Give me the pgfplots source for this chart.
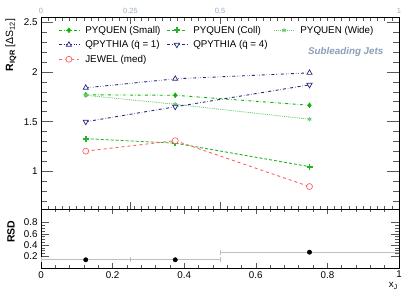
\documentclass[border=0pt]{standalone}
\usepackage{fontspec}
\setmainfont{Liberation Sans}
\usepackage{amsmath}
\usepackage{pgfplots}
\pgfplotsset{compat=1.18}

\definecolor{cSmall}{rgb}{0.05,0.7,0.05}
\definecolor{cColl}{rgb}{0.15,0.7,0.15}
\definecolor{cWide}{rgb}{0.42,0.8,0.42}
\definecolor{cQ}{rgb}{0.15,0.15,0.5}
\definecolor{cJ}{rgb}{1,0.38,0.38}
\definecolor{cLbl}{rgb}{0.6,0.68,0.78}
\definecolor{cSub}{rgb}{0.55,0.62,0.72}

\begin{document}
\fontsize{9.8}{11}\selectfont
\begin{tikzpicture}
\begin{axis}[
  name=top, at={(0,0)}, anchor=south west,
  scale only axis, width=358pt, height=192pt,
  xmin=0, xmax=1, ymin=0.625, ymax=2.55,
  /pgf/number format/assume math mode=true,
  xtick={0,0.25,0.5,1}, xticklabels={0,0.25,0.5,1},
  minor xtick={0,0.02,...,1},
  xtick pos=both, xticklabel pos=upper,
  x tick label style={font=\fontsize{7.5}{8}\selectfont, text=cLbl},
  xtick style={/pgfplots/major tick length=7pt, /pgfplots/minor tick length=3.5pt},
  ytick={1,1.5,2,2.5}, yticklabels={1,1.5,2,2.5},
  minor ytick={0.7,0.8,0.9,1.1,1.2,1.3,1.4,1.6,1.7,1.8,1.9,2.1,2.2,2.3,2.4,2.5},
  ytick pos=both, yticklabel pos=left,
  ytick style={/pgfplots/major tick length=12pt, /pgfplots/minor tick length=6pt},
  tick style={gray!70!black, line width=0.6pt},
  tick align=inside,
  ylabel={\textbf{R}\textsubscript{\textbf{IQR}} [ΔS\textsubscript{12}]},
  ylabel style={at={(axis description cs:-0.084,1.01)}, anchor=east, font=\fontsize{10.5}{12}\selectfont},
  legend columns=3,
  legend style={at={(axis description cs:0.04,0.975)}, anchor=north west, draw=none, fill=none,
    font=\fontsize{9.8}{11}\selectfont, column sep=4pt, row sep=1.5pt},
  legend cell align=left,
  legend image code/.code={\draw[mark repeat=2,mark phase=2,#1] plot coordinates {(0cm,0cm) (0.35cm,0cm) (0.7cm,0cm)};},
]
\addplot[color=cSmall, dashdotted, line width=0.9pt, mark=diamond*, mark options={solid, draw=cSmall, fill=cSmall, line width=0.5pt}, mark size=2.4] coordinates {(0.125,1.77) (0.375,1.765) (0.75,1.665)};
\addlegendentry{PYQUEN (Small)}
\addplot[color=cColl, densely dashed, line width=0.9pt, mark=+, mark options={solid, draw=cColl, line width=1.8pt}, mark size=3] coordinates {(0.125,1.33) (0.375,1.285) (0.75,1.05)};
\addlegendentry{PYQUEN (Coll)}
\addplot[color=cWide, densely dotted, line width=0.9pt, mark=asterisk, mark options={solid, draw=cWide, line width=0.9pt}, mark size=2.2] coordinates {(0.125,1.765) (0.375,1.675) (0.75,1.525)};
\addlegendentry{PYQUEN (Wide)}
\addplot[color=cQ, dash dot dot, line width=0.9pt, mark=triangle*, mark options={solid, draw=cQ, fill=white, line width=0.7pt}, mark size=3] coordinates {(0.125,1.84) (0.375,1.93) (0.75,1.99)};
\addlegendentry{QPYTHIA ($\hat{\text{q}}$ = 1)}
\addplot[color=cQ, dashdotted, line width=0.9pt, mark=triangle*, mark options={solid, rotate=180, draw=cQ, fill=white, line width=0.7pt}, mark size=3] coordinates {(0.125,1.50) (0.375,1.65) (0.75,1.87)};
\addlegendentry{QPYTHIA ($\hat{\text{q}}$ = 4)}
\addlegendimage{empty legend}\addlegendentry{}
\addplot[color=cJ, dashed, line width=0.9pt, mark=*, mark options={solid, draw=cJ, fill=white, line width=0.7pt}, mark size=3] coordinates {(0.125,1.205) (0.375,1.31) (0.75,0.85)};
\addlegendentry{JEWEL (med)}
\node[anchor=east, text=cSub, font=\bfseries\itshape\fontsize{9.8}{11}\selectfont] at (axis cs:0.966,2.20) {Subleading Jets};
\end{axis}

\begin{axis}[
  at={(top.south west)}, anchor=north west,
  scale only axis, width=358pt, height=58.7pt,
  xmin=0, xmax=1, ymin=0, ymax=1.04,
  /pgf/number format/assume math mode=true,
  xtick={0,0.2,0.4,0.6,0.8,1}, xticklabels={0,0.2,0.4,0.6,0.8,1},
  minor x tick num=4,
  xtick pos=both,
  xtick style={/pgfplots/major tick length=5pt, /pgfplots/minor tick length=2.5pt},
  ytick={0.2,0.4,0.6,0.8}, yticklabels={0.2,0.4,0.6,0.8},
  minor y tick num=3,
  ytick pos=both, yticklabel pos=left,
  ytick style={/pgfplots/major tick length=8pt, /pgfplots/minor tick length=4pt},
  tick style={gray!70!black, line width=0.6pt},
  tick align=inside,
  ylabel={\textbf{RSD}},
  ylabel style={at={(axis description cs:-0.084,0.86)}, anchor=east, font=\fontsize{10.5}{12}\selectfont},
  xlabel={x\textsubscript{J}},
  xlabel style={at={(ticklabel cs:1)}, anchor=north east, inner sep=1pt},
]
\addplot[only marks, mark=*, black, mark size=2.2,
  error bars/.cd, x dir=both, x explicit,
  error bar style={gray!50, line width=1pt},
  error mark options={rotate=90, gray!50, mark size=2.5, line width=0.8pt}]
  coordinates {(0.125,0.14) +- (0.125,0) (0.375,0.14) +- (0.125,0) (0.75,0.275) +- (0.25,0)};
\end{axis}
\pgfresetboundingbox
\path (-41pt,-91pt) rectangle (374pt,209pt);
\end{tikzpicture}
\end{document}
